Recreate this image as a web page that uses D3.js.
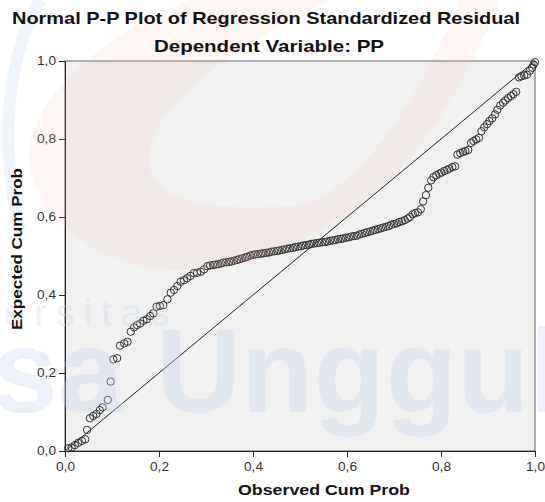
<!DOCTYPE html>
<meta charset="utf-8">
<style>
body { margin: 0; background: #fff; }
text { font-family: "Liberation Sans", Arial, sans-serif; }
.title { font-size: 17px; font-weight: bold; fill: #111; }
.axis-title { font-size: 15px; font-weight: bold; fill: #111; }
.axis text { font-size: 12px; fill: #333; }
.axis path, .axis line { stroke: #222; }
.dot { fill: none; stroke: #333; stroke-width: 1; }
.wm { fill: #c6d6ee; opacity: 0.34; }
</style>
<svg width="545" height="502"></svg>
<script src="https://d3js.org/d3.v7.min.js"></script>
<script>

// observed cum prob (x) and expected cum prob (y)
var observed = [
  0.007,0.014,0.021,0.028,0.036,0.043,0.047,0.053,0.060,0.067,0.074,0.080,0.091,0.097,0.103,
  0.111,0.117,0.126,0.133,0.140,0.147,0.153,0.160,0.167,0.174,0.181,0.188,0.195,0.202,0.209,
  0.218,0.225,0.232,0.239,0.246,0.253,0.260,0.267,0.274,0.281,0.289,0.296,0.303,
  0.309,0.315,0.320,0.326,0.332,0.337,0.343,0.349,0.354,0.360,0.366,0.371,0.377,0.383,0.388,
  0.394,0.400,0.405,0.411,0.417,0.422,0.428,0.434,0.439,0.445,0.451,0.456,0.462,0.468,0.473,
  0.479,0.485,0.490,0.496,0.502,0.507,0.513,0.519,0.524,0.530,0.536,0.541,0.547,0.553,0.558,
  0.564,0.570,0.575,0.581,0.587,0.592,0.598,0.604,0.609,0.615,0.621,0.626,0.632,0.638,0.643,
  0.649,0.655,0.660,0.666,0.672,0.677,0.683,0.689,0.694,0.700,0.706,0.711,0.717,0.723,
  0.729,0.734,0.740,0.745,0.751,0.757,0.762,0.768,0.773,0.779,0.784,0.790,0.796,0.801,0.807,
  0.813,0.818,0.824,0.830,0.835,0.841,0.847,0.852,0.858,0.864,0.869,0.875,0.881,0.886,0.892,
  0.898,0.903,0.909,0.915,0.920,0.926,0.932,0.937,0.943,0.949,0.954,0.960,0.966,0.971,0.977,
  0.983,0.989,0.994,0.997,1.000
];
var expected = [
  0.007,0.009,0.015,0.021,0.026,0.030,0.054,0.084,0.090,0.095,0.105,0.112,0.131,0.178,0.235,
  0.238,0.270,0.276,0.280,0.306,0.317,0.323,0.327,0.334,0.338,0.346,0.353,0.370,0.372,0.374,
  0.389,0.406,0.413,0.423,0.434,0.438,0.443,0.449,0.456,0.457,0.460,0.466,0.474,
  0.476,0.477,0.478,0.479,0.481,0.483,0.484,0.485,0.486,0.488,0.490,0.492,0.494,0.496,0.498,
  0.501,0.503,0.504,0.505,0.506,0.507,0.508,0.509,0.511,0.512,0.513,0.514,0.516,0.517,0.519,
  0.520,0.521,0.523,0.524,0.525,0.527,0.528,0.529,0.531,0.532,0.533,0.534,0.535,0.536,0.537,
  0.539,0.540,0.541,0.543,0.544,0.545,0.547,0.548,0.550,0.551,0.552,0.555,0.557,0.559,0.561,
  0.563,0.565,0.567,0.569,0.571,0.573,0.575,0.577,0.580,0.582,0.584,0.587,0.589,0.592,
  0.596,0.600,0.607,0.610,0.612,0.620,0.640,0.656,0.675,0.694,0.702,0.707,0.711,0.714,0.718,
  0.721,0.724,0.728,0.730,0.760,0.764,0.767,0.769,0.772,0.790,0.795,0.799,0.803,0.820,0.830,
  0.838,0.846,0.853,0.863,0.875,0.886,0.893,0.899,0.905,0.910,0.915,0.921,0.958,0.961,0.963,
  0.965,0.975,0.983,0.991,0.997
];
var ticks = [0, 0.2, 0.4, 0.6, 0.8, 1.0];

var svg = d3.select("svg"),
    margin = {top: 61, right: 10, bottom: 51, left: 65},
    width = 545 - margin.left - margin.right,
    height = 502 - margin.top - margin.bottom;

var fmt = function(d) { return d3.format(".1f")(d).replace(".", ","); };

var x = d3.scaleLinear().domain([0, 1]).range([0, width]),
    y = d3.scaleLinear().domain([0, 1]).range([height, 0]);

var g = svg.append("g")
    .attr("transform", "translate(" + margin.left + "," + margin.top + ")");

g.append("rect")
    .attr("width", width).attr("height", height)
    .attr("fill", "#f0f0f0")
    .attr("stroke", "#666");

// faint logo watermark laid over the page
var wm = svg.append("g");
wm.append("path")
    .attr("fill-rule", "evenodd")
    .attr("fill", "#f0b89c").attr("opacity", 0.13)
    .attr("d", "M190,0 C90,40 20,110 30,170 C45,230 110,272 190,270 C260,268 330,230 390,180 C440,130 475,60 500,0 Z " +
               "M330,0 C230,50 140,110 150,170 C160,205 230,212 300,205 C350,195 410,120 460,0 Z");
wm.append("path")
    .attr("fill", "none").attr("stroke", "#dbe5f3").attr("stroke-width", 12).attr("opacity", 0.45)
    .attr("d", "M40,0 C5,60 0,150 20,230");
wm.append("text").attr("class", "wm")
    .attr("x", -8).attr("y", 412)
    .style("font-size", "118px").style("font-weight", "bold")
    .text("sa Unggul");
wm.append("text").attr("class", "wm")
    .attr("x", 4).attr("y", 326)
    .style("font-size", "38px").style("letter-spacing", "9px")
    .text("ersitas");

g.append("g")
    .attr("class", "axis")
    .attr("transform", "translate(0," + height + ")")
    .call(d3.axisBottom(x).tickValues(ticks).tickFormat(fmt).tickSize(6).tickSizeOuter(0))
    .selectAll("text").attr("dy", "0.95em").attr("textLength", 19).attr("lengthAdjust", "spacingAndGlyphs");

g.append("g")
    .attr("class", "axis")
    .call(d3.axisLeft(y).tickValues(ticks).tickFormat(fmt).tickSize(6).tickSizeOuter(0))
    .selectAll("text").attr("textLength", 19).attr("lengthAdjust", "spacingAndGlyphs");

g.append("line")
    .attr("x1", x(0)).attr("y1", y(0))
    .attr("x2", x(1)).attr("y2", y(1))
    .attr("stroke", "#222").attr("stroke-width", 1);

g.selectAll(".dot")
    .data(observed)
    .enter().append("circle")
      .attr("class", "dot")
      .attr("cx", function(d) { return x(d); })
      .attr("cy", function(d, i) { return y(expected[i]); })
      .attr("r", 3.7);

svg.append("text").attr("class", "title")
    .attr("x", 266).attr("y", 24).attr("text-anchor", "middle")
    .attr("textLength", 508).attr("lengthAdjust", "spacingAndGlyphs")
    .text("Normal P-P Plot of Regression Standardized Residual");
svg.append("text").attr("class", "title")
    .attr("x", 269).attr("y", 52).attr("text-anchor", "middle")
    .attr("textLength", 230).attr("lengthAdjust", "spacingAndGlyphs")
    .text("Dependent Variable: PP");

svg.append("text").attr("class", "axis-title")
    .attr("x", 324).attr("y", 495).attr("text-anchor", "middle")
    .attr("textLength", 172).attr("lengthAdjust", "spacingAndGlyphs")
    .text("Observed Cum Prob");
svg.append("text").attr("class", "axis-title")
    .attr("transform", "translate(22,249) rotate(-90)").attr("text-anchor", "middle")
    .attr("textLength", 162).attr("lengthAdjust", "spacingAndGlyphs")
    .text("Expected Cum Prob");

</script>
